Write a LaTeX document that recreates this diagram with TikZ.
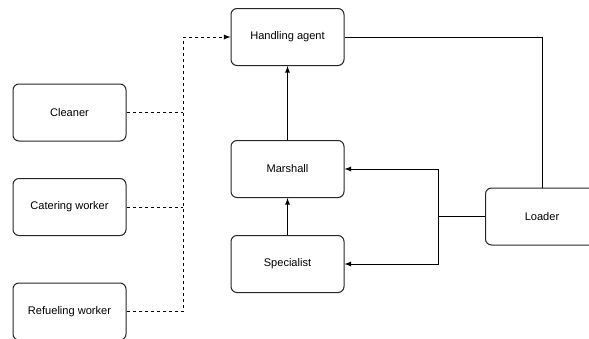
\documentclass[tikz,border=0pt]{standalone}
\usepackage{fontspec}
\setmainfont{Liberation Sans}
\usetikzlibrary{arrows,positioning}

\begin{document}
\begin{tikzpicture}[x=0.75pt,y=-0.75pt,
    role/.style={draw=black!85, line width=0.75pt, rounded corners=4.5pt,
                 minimum width=84.75pt, minimum height=42.75pt,
                 font=\fontsize{8.3}{10}\selectfont, inner sep=0pt},
    link/.style={line width=0.75pt, -latex},
    dashlink/.style={line width=0.75pt, dash pattern=on 2.25pt off 2.25pt}]
    \useasboundingbox (0,0) rectangle (589,339);

    % ground staff on the left
    \node[role] (cleaner)   at (69.5,112.5) {Cleaner};
    \node[role] (catering)  at (69.5,207)   {Catering worker};
    \node[role] (refueling) at (69.5,311.5) {Refueling worker};

    % middle column
    \node[role] (agent)      at (287.5,37)  {Handling agent};
    \node[role] (marshall)   at (287.5,169) {Marshall};
    \node[role] (specialist) at (287.5,264) {Specialist};

    % right side (box runs past the edge)
    \node[role] (loader) at (542,216.5) {Loader};

    % dashed bus into the handling agent
    \coordinate (bus) at (183,37);
    \draw[dashlink] (cleaner.east) -- (cleaner.east -| bus);
    \draw[dashlink] (catering.east) -- (catering.east -| bus);
    \draw[dashlink] (refueling.east) -- (refueling.east -| bus) -- (bus);
    \draw[dashlink, -latex] (bus) -- (agent.west);

    % solid links
    \draw[link] (marshall.north) -- (agent.south);
    \draw[link] (specialist.north) -- (marshall.south);
    \draw[line width=0.75pt] (agent.east) -| (loader.north);

    \coordinate (split) at (438,216.5);
    \draw[line width=0.75pt] (loader.west) -- (split);
    \draw[link] (split) |- (marshall.east);
    \draw[link] (split) |- (specialist.east);
\end{tikzpicture}
\end{document}
